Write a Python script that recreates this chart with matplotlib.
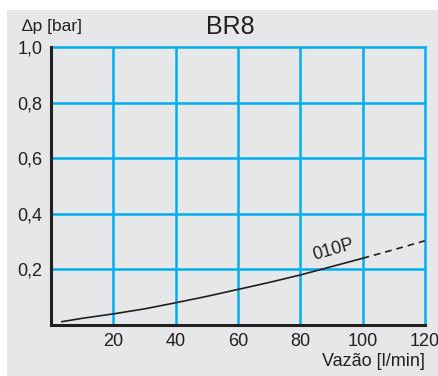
import matplotlib
matplotlib.use("Agg")
import matplotlib.pyplot as plt
import matplotlib.patches as mpatches

# Pressure drop curve 010P
flow_solid = [3.5, 10, 20, 30, 40, 50, 60, 70, 80, 90, 100]
dp_solid = [0.012, 0.024, 0.040, 0.058, 0.080, 0.103, 0.128, 0.153, 0.180, 0.210, 0.240]
flow_dashed = [100, 110, 120]
dp_dashed = [0.240, 0.271, 0.303]

x_ticks = [20, 40, 60, 80, 100, 120]
y_ticks = [0.2, 0.4, 0.6, 0.8, 1.0]
y_tick_labels = ["0,2", "0,4", "0,6", "0,8", "1,0"]

BLUE = "#00aeef"
TEXT = "#231f20"
BG = "#e6e7e8"

plt.rcParams['font.family'] = ['Liberation Sans', 'DejaVu Sans']

fig = plt.figure(figsize=(4.38, 3.76), dpi=100, facecolor='white')
fig.patches.append(mpatches.Rectangle((7 / 438, 0), 1, (376 - 10) / 376,
                                      transform=fig.transFigure,
                                      facecolor=BG, edgecolor='none', zorder=-10))

ax = fig.add_axes([51 / 438, 51 / 376, 374 / 438, 278 / 376])
ax.set_facecolor(BG)
ax.set_xlim(0, 120)
ax.set_ylim(0, 1.0)

# grid
for x in x_ticks[:-1]:
    ax.axvline(x, color=BLUE, lw=1.8, zorder=1)
for y in y_ticks[:-1]:
    ax.axhline(y, color=BLUE, lw=1.8, zorder=1)

for side in ['top', 'right']:
    ax.spines[side].set_color(BLUE)
    ax.spines[side].set_linewidth(1.8)
for side in ['left', 'bottom']:
    ax.spines[side].set_color(TEXT)
    ax.spines[side].set_linewidth(2.2)
    ax.spines[side].set_zorder(3)

ax.set_xticks(x_ticks)
ax.set_xticklabels([str(t) for t in x_ticks])
ax.set_yticks(y_ticks)
ax.set_yticklabels(y_tick_labels)
ax.tick_params(length=0, labelsize=13, labelcolor=TEXT, pad=6)

# curve
ax.plot(flow_solid, dp_solid, color=TEXT, lw=1.2, zorder=4)
ax.plot(flow_dashed, dp_dashed, color=TEXT, lw=1.2, ls=(0, (4, 3)), zorder=4)
ax.text(90.5, 0.27, "010P", fontsize=13, color=TEXT, rotation=16,
        ha='center', va='center', zorder=5)

# labels
fig.text(230 / 438, 1 - 27 / 376, "BR8", fontsize=18, color=TEXT,
         ha='center', va='center')
fig.text(22 / 438, 1 - 27 / 376, "\u2206p [bar]", fontsize=12.5, color=TEXT,
         ha='left', va='center')
fig.text(425 / 438, 1 - 362 / 376, "Vaz\u00e3o [l/min]", fontsize=13, color=TEXT,
         ha='right', va='center')

fig.savefig("out.png", dpi=100, facecolor='white')
